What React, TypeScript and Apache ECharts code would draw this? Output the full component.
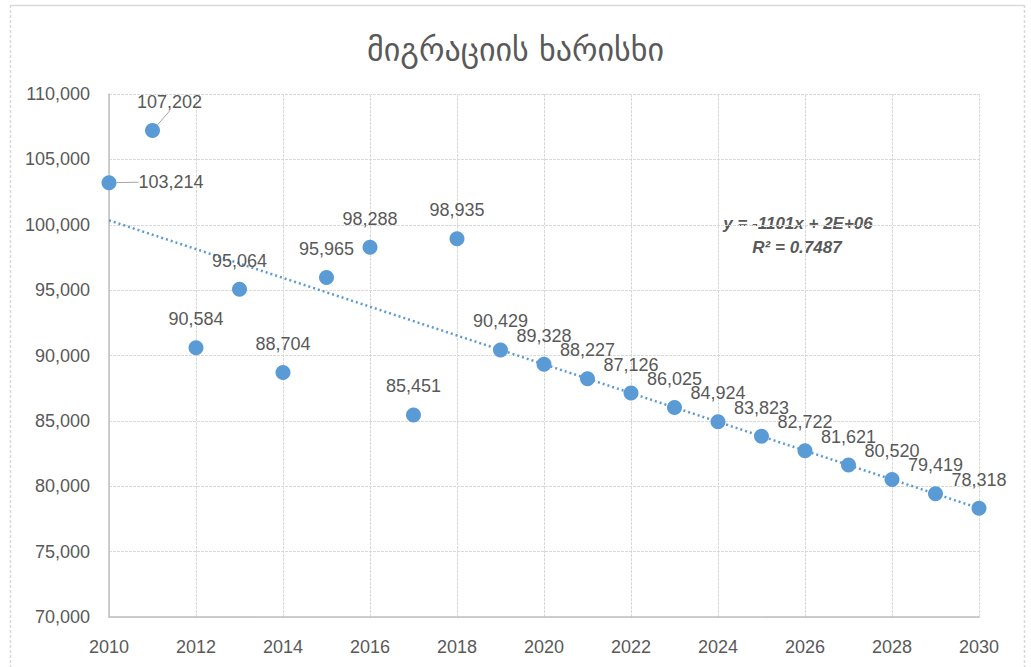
import React, { useEffect, useRef } from "react";
import * as echarts from "echarts";

const years = [2010, 2011, 2012, 2013, 2014, 2015, 2016, 2017, 2018, 2019, 2020, 2021, 2022, 2023, 2024, 2025, 2026, 2027, 2028, 2029, 2030];
const values = [103214, 107202, 90584, 95064, 88704, 95965, 98288, 85451, 98935, 90429, 89328, 88227, 87126, 86025, 84924, 83823, 82722, 81621, 80520, 79419, 78318];
const titleText = "მიგრაციის ხარისხი";
const equationText = "y = -1101x + 2E+06";
const r2Text = "R² = 0.7487";

const TEXT = "#595959";
const BLUE = "#5B9BD5";
const FONT = "'Liberation Sans', Arial, sans-serif";

function linearFit(xs: number[], ys: number[]) {
  const n = xs.length;
  const mx = xs.reduce((a, b) => a + b, 0) / n;
  const my = ys.reduce((a, b) => a + b, 0) / n;
  let sxy = 0, sxx = 0;
  for (let i = 0; i < n; i++) { sxy += (xs[i] - mx) * (ys[i] - my); sxx += (xs[i] - mx) ** 2; }
  const k = sxy / sxx;
  return { k, b: my - k * mx };
}

export default function App() {
  const ref = useRef<HTMLDivElement>(null);
  useEffect(() => {
    if (!ref.current) return;
    const chart = echarts.init(ref.current, null, { renderer: "svg" });
    const fit = linearFit(years, values);
    const x0 = years[0], x1 = years[years.length - 1];
    const trend = [[x0, fit.k * x0 + fit.b], [x1, fit.k * x1 + fit.b]];
    const fmt = (v: number) => v.toLocaleString("en-US");
    chart.setOption({
      animation: false,
      backgroundColor: "#fff",
      title: {
        text: titleText, left: "center", top: 29,
        textStyle: { color: TEXT, fontSize: 32, fontWeight: "normal", fontFamily: "'DejaVu Sans', sans-serif" },
      },
      grid: { left: 109, right: 52, top: 94, bottom: 50 },
      xAxis: {
        type: "value", min: 2010, max: 2030, interval: 2,
        axisLine: { show: true, lineStyle: { color: "#bfbfbf", width: 1.5 } },
        axisTick: { show: false },
        axisLabel: { color: TEXT, fontSize: 18, fontFamily: FONT, margin: 21, formatter: (v: number) => String(v) },
        splitLine: { show: true, lineStyle: { color: "#d9d9d9", type: [3, 1], width: 1 } },
      },
      yAxis: {
        type: "value", min: 70000, max: 110000, interval: 5000,
        axisLine: { show: true, lineStyle: { color: "#bfbfbf", width: 1.5 } },
        axisTick: { show: false },
        axisLabel: { color: TEXT, fontSize: 18, fontFamily: FONT, margin: 19, formatter: fmt },
        splitLine: { show: true, lineStyle: { color: "#d9d9d9", type: [3, 1], width: 1 } },
      },
      series: [
        {
          type: "line",
          data: trend,
          symbol: "none",
          lineStyle: { color: BLUE, width: 2.5, type: [2, 3] },
          silent: true,
          z: 1,
        },
        {
          type: "scatter",
          data: years.map((y, i) => ({
            value: [y, values[i]],
            labelLine: { show: i < 2 },
          })),
          symbolSize: 15,
          itemStyle: { color: BLUE, opacity: 1 },
          z: 3,
          label: {
            show: true,
            position: "top",
            distance: 12,
            color: TEXT,
            fontSize: 18,
            fontFamily: FONT,
            formatter: (p: any) => fmt(p.value[1]),
          },
          labelLine: { show: false, lineStyle: { color: "#a6a6a6", width: 1 }, length2: 0 },
          labelLayout: (p: any) => {
            if (p.dataIndex === 0) return { dx: 62, dy: 28 };
            if (p.dataIndex === 1) return { dx: 17, dy: 0 };
            return {};
          },
        },
      ],
      graphic: [
        { type: "line", shape: { x1: 10, y1: 5.5, x2: 1024, y2: 5.5 }, style: { stroke: "#d9d9d9", lineWidth: 1.5 } },
        { type: "line", shape: { x1: 10.5, y1: 5, x2: 10.5, y2: 667 }, style: { stroke: "#d9d9d9", lineWidth: 1.5, lineDash: [3, 2] } },
        { type: "line", shape: { x1: 1024.5, y1: 5, x2: 1024.5, y2: 667 }, style: { stroke: "#d9d9d9", lineWidth: 1.5, lineDash: [3, 2] } },
        {
          type: "text", x: 798, y: 223,
          style: { text: equationText, fill: TEXT, font: `italic bold 17px ${FONT}`, textAlign: "center", textVerticalAlign: "middle" },
        },
        {
          type: "text", x: 797, y: 247,
          style: { text: r2Text, fill: TEXT, font: `italic bold 17px ${FONT}`, textAlign: "center", textVerticalAlign: "middle" },
        },
      ],
    });
    return () => chart.dispose();
  }, []);
  return <div ref={ref} style={{ position: "fixed", left: 0, top: 0, width: 1031, height: 667 }} />;
}
